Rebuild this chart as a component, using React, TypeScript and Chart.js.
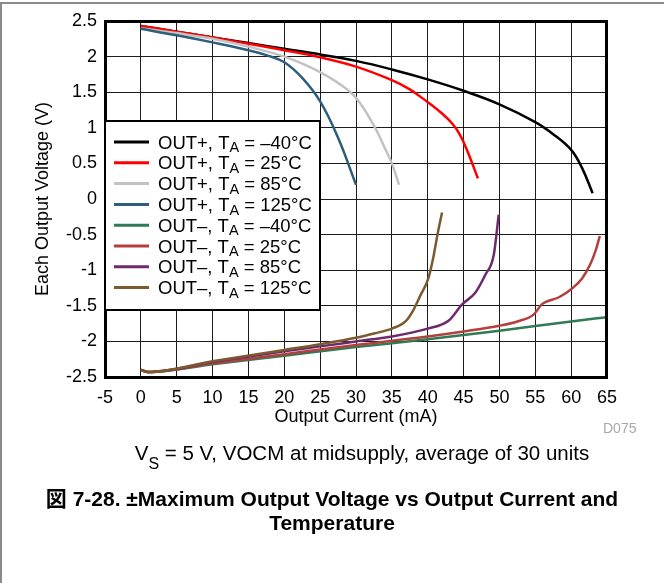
import React, { useEffect, useRef } from 'react';
import { Chart, registerables } from 'chart.js';

Chart.register(...registerables);

const FONT = "'Liberation Sans', Arial, Helvetica, 'Noto Sans CJK JP', sans-serif";

// Axis tick values
const currentTicks = [-5, 0, 5, 10, 15, 20, 25, 30, 35, 40, 45, 50, 55, 60, 65];
const voltageTicks = [-2.5, -2, -1.5, -1, -0.5, 0, 0.5, 1, 1.5, 2, 2.5];

// OUT+ (high-side swing), output current in mA, output voltage in V
const plusM40Current = [0, 5, 10, 15, 20, 25, 30, 35, 40, 45, 50, 55, 57.5, 60, 61.5, 63];
const plusM40Volts = [2.43, 2.35, 2.27, 2.19, 2.11, 2.03, 1.94, 1.82, 1.68, 1.52, 1.33, 1.08, 0.91, 0.69, 0.44, 0.08];

const plus25Current = [0, 5, 10, 15, 20, 25, 30, 35, 37.5, 40, 42, 43.5, 44.5, 45.5, 47];
const plus25Volts = [2.43, 2.35, 2.27, 2.18, 2.09, 1.99, 1.86, 1.67, 1.54, 1.36, 1.2, 1.05, 0.9, 0.68, 0.29];

const plus85Current = [0, 5, 10, 15, 20, 22.5, 25, 27.5, 30, 32.5, 34, 35, 36];
const plus85Volts = [2.4, 2.33, 2.25, 2.14, 2.0, 1.9, 1.78, 1.63, 1.42, 1.03, 0.72, 0.5, 0.2];

const plus125Current = [0, 5, 10, 15, 17.5, 20, 22.5, 25, 27.5, 30];
const plus125Volts = [2.39, 2.3, 2.2, 2.09, 2.02, 1.92, 1.7, 1.37, 0.86, 0.2];

// OUT- (low-side swing)
const minusM40Current = [0, 1, 10, 20, 30, 40, 50, 60, 65];
const minusM40Volts = [-2.4, -2.43, -2.32, -2.2, -2.08, -1.97, -1.85, -1.72, -1.66];

const minus25Current = [0, 1, 10, 20, 30, 40, 45, 50, 52.5, 54.8, 55.9, 58.3, 60.1, 61.5, 62.7, 63.4, 64];
const minus25Volts = [-2.4, -2.43, -2.31, -2.18, -2.05, -1.93, -1.86, -1.78, -1.72, -1.62, -1.48, -1.38, -1.26, -1.12, -0.91, -0.73, -0.52];

const minus85Current = [0, 1, 10, 20, 25, 30, 35, 40, 42.9, 44.8, 46.6, 48, 49.2, 49.9];
const minus85Volts = [-2.4, -2.43, -2.29, -2.14, -2.07, -2.0, -1.93, -1.82, -1.71, -1.48, -1.32, -1.07, -0.79, -0.22];

const minus125Current = [0, 1, 10, 20, 25, 30, 32.5, 35, 36.9, 38, 39, 40.1, 40.8, 41.4, 42];
const minus125Volts = [-2.4, -2.43, -2.28, -2.12, -2.04, -1.95, -1.89, -1.82, -1.72, -1.56, -1.35, -1.11, -0.81, -0.48, -0.19];

const outputNames = ['OUT+', 'OUT+', 'OUT+', 'OUT+', 'OUT–', 'OUT–', 'OUT–', 'OUT–'];
const temperatures = ['–40', '25', '85', '125', '–40', '25', '85', '125'];
const seriesColors = ['#000000', '#ff0000', '#c2c2c2', '#2d5f7c', '#2e7b55', '#b3403c', '#6d2b6d', '#7a5a2e'];

const currents = [plusM40Current, plus25Current, plus85Current, plus125Current, minusM40Current, minus25Current, minus85Current, minus125Current];
const volts = [plusM40Volts, plus25Volts, plus85Volts, plus125Volts, minusM40Volts, minus25Volts, minus85Volts, minus125Volts];

// Heavy frame around the plotting area
const framePlugin = {
  id: 'plotFrame',
  afterDatasetsDraw(chart: any) {
    const { ctx, chartArea: a } = chart;
    ctx.save();
    ctx.strokeStyle = '#000';
    ctx.lineWidth = 3;
    ctx.strokeRect(a.left + 0.5, a.top + 0.5, a.right - a.left - 1, a.bottom - a.top);
    ctx.restore();
  },
};

// Boxed legend with subscripted T_A labels
const legendPlugin = {
  id: 'tempLegend',
  afterDraw(chart: any) {
    const { ctx, chartArea: a } = chart;
    const x0 = a.left;
    const y0 = a.top + 100;
    const w = 215;
    const h = 189;
    ctx.save();
    ctx.fillStyle = '#fff';
    ctx.fillRect(x0, y0, w, h);
    ctx.strokeStyle = '#000';
    ctx.lineWidth = 2;
    ctx.strokeRect(x0, y0, w, h);
    chart.data.datasets.forEach((ds: any, i: number) => {
      const cy = y0 + 21 + i * 20.8;
      ctx.strokeStyle = ds.borderColor;
      ctx.lineWidth = 3;
      ctx.beginPath();
      ctx.moveTo(x0 + 9, cy);
      ctx.lineTo(x0 + 44, cy);
      ctx.stroke();
      const base = cy + 6.6;
      let tx = x0 + 53;
      ctx.fillStyle = '#000';
      ctx.textBaseline = 'alphabetic';
      ctx.textAlign = 'left';
      ctx.font = `18.5px ${FONT}`;
      const pre = `${outputNames[i]}, T`;
      ctx.fillText(pre, tx, base);
      tx += ctx.measureText(pre).width;
      ctx.font = `14.5px ${FONT}`;
      ctx.fillText('A', tx, base + 3.5);
      tx += ctx.measureText('A').width;
      ctx.font = `18.5px ${FONT}`;
      ctx.fillText(` = ${temperatures[i]}°C`, tx, base);
    });
    ctx.restore();
  },
};

export default function App() {
  const canvasRef = useRef<HTMLCanvasElement>(null);

  useEffect(() => {
    const canvas = canvasRef.current;
    if (!canvas) return;
    const gridStyle = { color: '#1c1c1c', lineWidth: 1, drawTicks: false };
    const tickFont = { family: FONT, size: 18 };
    const chart = new Chart(canvas, {
      type: 'line',
      data: {
        datasets: currents.map((xs, i) => ({
          label: `${outputNames[i]}, TA = ${temperatures[i]}°C`,
          data: xs.map((x, j) => ({ x, y: volts[i][j] })),
          borderColor: seriesColors[i],
          backgroundColor: seriesColors[i],
          borderWidth: 2.5,
          pointRadius: 0,
          // high-side curves bend smoothly; low-side curves keep their knees
          cubicInterpolationMode: i < 4 ? ('default' as const) : ('monotone' as const),
          tension: i < 4 ? 0.4 : 0,
          fill: false,
          order: currents.length - i,
        })),
      },
      options: {
        responsive: false,
        animation: false,
        devicePixelRatio: 1,
        layout: { padding: { left: 0, top: 21, right: 57, bottom: 155 } },
        plugins: { legend: { display: false }, tooltip: { enabled: false } },
        scales: {
          x: {
            type: 'linear',
            min: -5,
            max: 65,
            afterBuildTicks: (s: any) => {
              s.ticks = currentTicks.map((value) => ({ value }));
            },
            afterFit: (s: any) => {
              s.height = 51;
            },
            grid: gridStyle,
            border: { display: false },
            ticks: { color: '#000', font: tickFont, padding: 10, autoSkip: false, maxRotation: 0, callback: (v: any) => String(v) },
            title: { display: true, text: 'Output Current (mA)', color: '#000', font: { family: FONT, size: 18 }, padding: 0 },
          },
          y: {
            type: 'linear',
            min: -2.5,
            max: 2.5,
            afterBuildTicks: (s: any) => {
              s.ticks = voltageTicks.map((value) => ({ value }));
            },
            afterFit: (s: any) => {
              s.width = 105;
            },
            grid: gridStyle,
            border: { display: false },
            ticks: { color: '#000', font: tickFont, padding: 8, callback: (v: any) => String(v) },
            title: {
              display: true,
              text: 'Each Output Voltage (V)',
              color: '#000',
              font: { family: FONT, size: 18 },
              padding: { top: 32, bottom: 0 },
            },
          },
        },
      },
      plugins: [framePlugin, legendPlugin],
    } as any);
    return () => chart.destroy();
  }, []);

  return (
    <div style={{ position: 'absolute', left: 0, top: 0, width: 664, height: 583, background: '#fff', overflow: 'hidden', fontFamily: FONT, color: '#000' }}>
      <div style={{ position: 'absolute', left: 0, top: 2, width: 664, height: 0, borderTop: '2px solid #8a8a8a' }} />
      <div style={{ position: 'absolute', left: 0, top: 2, width: 0, height: 581, borderLeft: '2px solid #8a8a8a' }} />
      <canvas ref={canvasRef} width={664} height={583} style={{ position: 'absolute', left: 0, top: 0, width: 664, height: 583 }} />
      <div style={{ position: 'absolute', left: 603, top: 420, fontSize: 14, lineHeight: '16px', color: '#a8a8a8' }}>D075</div>
      <div style={{ position: 'absolute', left: 62, width: 600, top: 441, textAlign: 'center', fontSize: 20.5, lineHeight: '24px', whiteSpace: 'nowrap' }}>
        V<span style={{ fontSize: 16, position: 'relative', top: 9 }}>S</span> = 5 V, VOCM at midsupply, average of 30 units
      </div>
      <div style={{ position: 'absolute', left: 0, width: 664, top: 487, textAlign: 'center', fontSize: 21, fontWeight: 'bold', lineHeight: '24px', whiteSpace: 'nowrap' }}>
        図 7-28. ±Maximum Output Voltage vs Output Current and
        <br />
        Temperature
      </div>
    </div>
  );
}
